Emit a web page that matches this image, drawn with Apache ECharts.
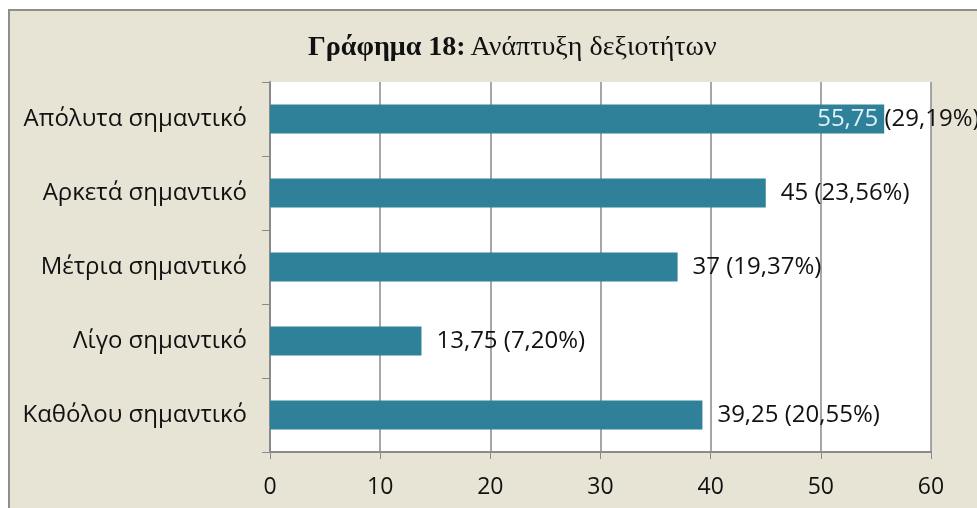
<!DOCTYPE html>
<html>
<head>
<meta charset="utf-8">
<script src="https://cdn.jsdelivr.net/npm/echarts@6/dist/echarts.min.js"></script>
<style>
  html, body { margin: 0; padding: 0; background: #fff; overflow: hidden; }
  #frame {
    position: absolute; left: 8px; top: 9px; width: 980px; height: 510px;
    background: #E7E4D6; border-top: 2px solid #8f8f8a; border-left: 2px solid #8f8f8a;
  }
  #chart { position: absolute; left: 0; top: 0; width: 977px; height: 508px; }
</style>
</head>
<body>
<div id="frame"></div>
<div id="chart"></div>
<script>
const categories = ['Απόλυτα σημαντικό', 'Αρκετά σημαντικό', 'Μέτρια σημαντικό', 'Λίγο σημαντικό', 'Καθόλου σημαντικό'];
const values = [55.75, 45, 37, 13.75, 39.25];
const percents = ['29,19%', '23,56%', '19,37%', '7,20%', '20,55%'];
const xTicks = [0, 10, 20, 30, 40, 50, 60];

const fmt = (v) => String(v).replace('.', ',');
const labelFont = 'Open Sans';

const seriesData = values.map((v, i) => {
  const item = { value: v };
  if (i === 0) {
    // Excel pulled this label back inside the chart area
    item.label = {
      offset: [-82, 0],
      formatter: () => '{w|' + fmt(v) + '} {d|(' + percents[i] + ')}'
    };
  }
  return item;
});

const chart = echarts.init(document.getElementById('chart'));
chart.setOption({
  backgroundColor: 'transparent',
  animation: false,
  title: {
    text: '{b|Γράφημα 18:} {n|Ανάπτυξη δεξιοτήτων}',
    left: 303,
    top: 29,
    textStyle: {
      fontWeight: 'normal',
      rich: {
        b: { fontFamily: 'Liberation Serif', fontWeight: 'bold', fontSize: 28, color: '#111' },
        n: { fontFamily: 'Liberation Serif', fontWeight: 'normal', fontSize: 28, color: '#111' }
      }
    }
  },
  grid: { left: 270, right: 46, top: 82, bottom: 56, containLabel: false,
          show: true, backgroundColor: '#fff', borderWidth: 0 },
  xAxis: {
    type: 'value',
    min: xTicks[0],
    max: xTicks[xTicks.length - 1],
    interval: 10,
    axisLine: { show: true, lineStyle: { color: '#8a8a8a', width: 2 } },
    axisTick: { show: true, length: 7, lineStyle: { color: '#8a8a8a' } },
    splitLine: { show: true, lineStyle: { color: '#8a8a8a', width: 1.5 } },
    axisLabel: { color: '#111', fontFamily: labelFont, fontSize: 23, margin: 24 }
  },
  yAxis: {
    type: 'category',
    inverse: true,
    data: categories,
    axisLine: { show: true, lineStyle: { color: '#8a8a8a', width: 2 } },
    axisTick: { show: true, length: 8, inside: false, lineStyle: { color: '#8a8a8a' } },
    axisLabel: { color: '#111', fontFamily: labelFont, fontSize: 24, margin: 23 }
  },
  series: [{
    type: 'bar',
    data: seriesData,
    barWidth: 29,
    itemStyle: { color: '#2E8199' },
    label: {
      show: true,
      position: 'right',
      distance: 15,
      color: '#111',
      fontFamily: labelFont,
      fontSize: 24,
      formatter: (p) => fmt(p.value) + ' (' + percents[p.dataIndex] + ')',
      rich: {
        w: { color: '#dff1f7', fontFamily: labelFont, fontSize: 24 },
        d: { color: '#111', fontFamily: labelFont, fontSize: 24 }
      }
    }
  }]
});
</script>
</body>
</html>
